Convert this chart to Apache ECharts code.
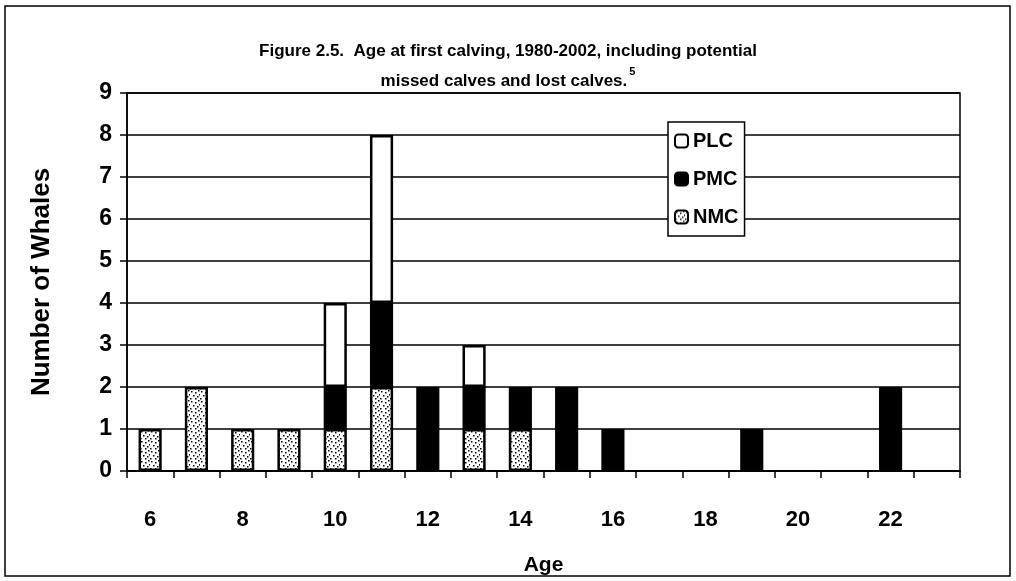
<!DOCTYPE html>
<html>
<head>
<meta charset="utf-8">
<script src="https://cdn.jsdelivr.net/npm/echarts@6/dist/echarts.min.js"></script>
<style>
	html, body { margin: 0; padding: 0; background: #fff; }
	#chart { width: 1016px; height: 581px; }
</style>
</head>
<body>
<div id="chart"></div>
<script>
// ages 6..23
const ages = ["6", "7", "8", "9", "10", "11", "12", "13", "14", "15", "16", "17", "18", "19", "20", "21", "22", "23"]
const nmc = [1, 2, 1, 1, 1, 2, 0, 1, 1, 0, 0, 0, 0, 0, 0, 0, 0, 0]
const pmc = [0, 0, 0, 0, 1, 2, 2, 1, 1, 2, 1, 0, 0, 1, 0, 0, 2, 0]
const plc = [0, 0, 0, 0, 2, 4, 0, 1, 0, 0, 0, 0, 0, 0, 0, 0, 0, 0]
const legendNames = ["PLC", "PMC", "NMC"]

// speckled fill, like the scanned dotted bars
const speckle = (() => {
	const c = document.createElement("canvas")
	c.width = 10
	c.height = 10
	const ctx = c.getContext("2d")
	ctx.fillStyle = "#fff"
	ctx.fillRect(0, 0, 10, 10)
	ctx.fillStyle = "#000"
	const dots = [[1, 1], [5, 2], [8, 0], [3, 5], [7, 6], [0, 8], [5, 8], [9, 4]]
	dots.forEach(([x, y]) => ctx.fillRect(x, y, 1.5, 1.5))
	return c
})()

const font = "Liberation Sans, Arial, sans-serif"
const noZero = arr => arr.map(v => (v === 0 ? null : v))

const barItem = (name, data, color) => ({
	name,
	type: "bar",
	stack: "all",
	data: noZero(data),
	barWidth: "50%",
	itemStyle: {
		color,
		borderColor: "#000",
		borderWidth: 2.5,
	},
})

const chart = echarts.init(document.getElementById("chart"))
chart.setOption({
	animation: false,
	backgroundColor: "#fff",
	title: {
		text: "Figure 2.5.  Age at first calving, 1980-2002, including potential\n{n|missed calves and lost calves.}{s|5}",
		left: "center",
		top: 31,
		textStyle: {
			fontFamily: font,
			fontWeight: "bold",
			fontSize: 17,
			lineHeight: 30,
			color: "#000",
			rich: {
				n: { fontFamily: font, fontWeight: "bold", fontSize: 17, color: "#000" },
				s: { fontFamily: font, fontWeight: "bold", fontSize: 11, color: "#000", verticalAlign: "top", padding: [0, 0, 10, 2] },
			},
		},
	},
	legend: {
		data: legendNames,
		orient: "vertical",
		left: 668,
		top: 122,
		itemWidth: 13,
		itemHeight: 13,
		itemGap: 18,
		padding: [9, 6, 9, 6],
		borderColor: "#000",
		borderWidth: 1.5,
		backgroundColor: "#fff",
		selectedMode: false,
		textStyle: {
			fontFamily: font,
			fontWeight: "bold",
			fontSize: 20,
			color: "#000",
			padding: [0, 0, 0, 0],
		},
	},
	grid: {
		left: 127,
		right: 56,
		top: 93,
		bottom: 106,
		show: true,
		borderColor: "#000",
		borderWidth: 1.5,
	},
	xAxis: {
		type: "category",
		data: ages,
		name: "Age",
		nameLocation: "middle",
		nameGap: 84,
		nameTextStyle: { fontFamily: font, fontWeight: "bold", fontSize: 21, color: "#000" },
		axisLine: { lineStyle: { color: "#000", width: 1.5 } },
		axisTick: { show: true, interval: 0, length: 7, lineStyle: { color: "#000", width: 1.5 } },
		axisLabel: {
			interval: 1,
			margin: 38,
			fontFamily: font,
			fontWeight: "bold",
			fontSize: 22,
			color: "#000",
		},
	},
	yAxis: {
		type: "value",
		min: 0,
		max: 9,
		interval: 1,
		name: "Number of Whales",
		nameLocation: "middle",
		nameGap: 72,
		nameTextStyle: { fontFamily: font, fontWeight: "bold", fontSize: 26, color: "#000" },
		axisLine: { show: true, lineStyle: { color: "#000", width: 1.5 } },
		axisTick: { show: true, length: 7, lineStyle: { color: "#000", width: 1.5 } },
		axisLabel: { margin: 15, fontFamily: font, fontWeight: "bold", fontSize: 23, color: "#000" },
		splitLine: { show: true, lineStyle: { color: "#000", width: 1.5 } },
	},
	series: [
		barItem("NMC", nmc, { image: speckle, repeat: "repeat" }),
		barItem("PMC", pmc, "#000"),
		barItem("PLC", plc, "#fff"),
	],
	graphic: [
		{
			type: "rect",
			shape: { x: 5, y: 6, width: 1005, height: 570 },
			style: { fill: null, stroke: "#000", lineWidth: 1.5 },
			silent: true,
			z: -1,
		},
	],
})
</script>
</body>
</html>
